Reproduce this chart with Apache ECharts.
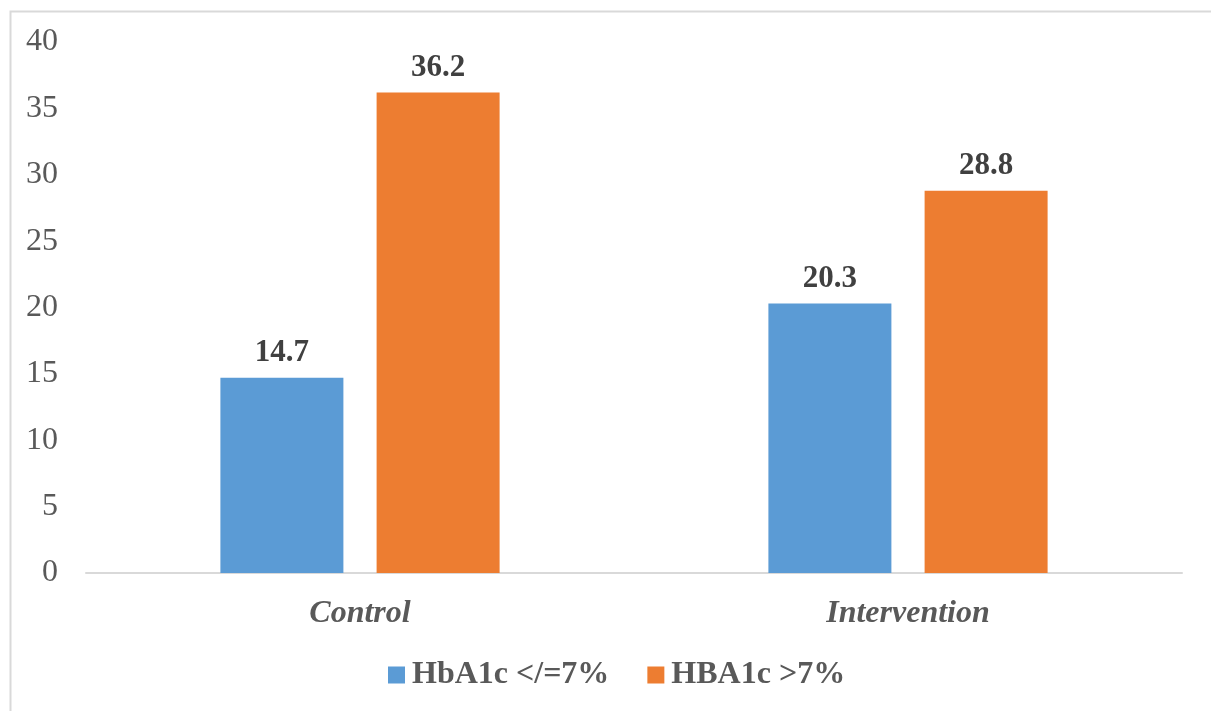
<!DOCTYPE html>
<html>
<head>
<meta charset="utf-8">
<script src="https://cdn.jsdelivr.net/npm/echarts@6/dist/echarts.min.js"></script>
<style>
  html, body { margin: 0; padding: 0; background: #ffffff; }
  #chart { width: 1211px; height: 711px; }
</style>
</head>
<body>
<div id="chart"></div>
<script>
// Study groups and HbA1c-control shares for each
const categories = ['Control', 'Intervention'];
const seriesNames = ['HbA1c </=7%', 'HBA1c >7%'];
const controlledValues = [14.7, 20.3];
const uncontrolledValues = [36.2, 28.8];
const yMin = 0, yMax = 40, yStep = 5;

const FONT = '"Liberation Serif", "Times New Roman", serif';
const chart = echarts.init(document.getElementById('chart'), null, { renderer: 'canvas' });

const valueLabel = {
  show: true,
  position: 'top',
  distance: 9,
  fontFamily: FONT,
  fontSize: 31,
  fontWeight: 'bold',
  color: '#404040'
};

chart.setOption({
  animation: false,
  backgroundColor: '#ffffff',
  graphic: [{
    type: 'rect',
    left: 8, top: 9,
    shape: { width: 1202, height: 720 },
    style: { fill: 'none', stroke: '#d9d9d9', lineWidth: 2 },
    silent: true, z: -1
  }],
  grid: { left: 86, right: 29, top: 42, bottom: 138, containLabel: false },
  legend: {
    data: seriesNames,
    bottom: 20,
    left: 388,
    padding: 0,
    itemWidth: 17,
    itemHeight: 17,
    itemGap: 38,
    icon: 'rect',
    textStyle: { fontFamily: FONT, fontSize: 32, fontWeight: 'bold', color: '#595959', padding: [0, 0, 0, 2] }
  },
  xAxis: {
    type: 'category',
    data: categories,
    axisLine: { lineStyle: { color: '#d9d9d9', width: 2 } },
    axisTick: { show: false },
    axisLabel: {
      margin: 25,
      fontFamily: FONT, fontSize: 32, fontWeight: 'bold', fontStyle: 'italic', color: '#595959'
    }
  },
  yAxis: {
    type: 'value',
    min: yMin, max: yMax, interval: yStep,
    splitLine: { show: false },
    axisLine: { show: false },
    axisTick: { show: false },
    axisLabel: { margin: 28, fontFamily: FONT, fontSize: 32, color: '#595959' }
  },
  series: [
    {
      name: seriesNames[0], type: 'bar', data: controlledValues,
      barWidth: 123, barGap: '27%',
      itemStyle: { color: '#5b9bd5' },
      label: valueLabel
    },
    {
      name: seriesNames[1], type: 'bar', data: uncontrolledValues,
      barWidth: 123, barGap: '27%',
      itemStyle: { color: '#ed7d31' },
      label: valueLabel
    }
  ]
});
</script>
</body>
</html>
